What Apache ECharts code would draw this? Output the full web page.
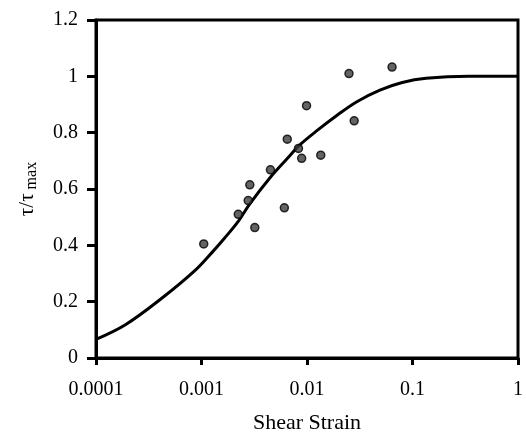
<!DOCTYPE html>
<html>
<head>
<meta charset="utf-8">
<script src="https://cdn.jsdelivr.net/npm/echarts@6/dist/echarts.min.js"></script>
<style>
  html, body { margin: 0; padding: 0; background: #fff; }
  #chart { width: 526px; height: 439px; }
</style>
</head>
<body>
<div id="chart"></div>
<script>
// fitted curve (shear strain vs tau/tau max)
var curveStrain = [0.0001, 0.00019, 0.00042, 0.00087, 0.00126, 0.00165, 0.00223, 0.00287, 0.00458, 0.00657, 0.00845, 0.0125, 0.0193, 0.0297, 0.0491, 0.08, 0.1345, 0.342, 1];
var curveRatio  = [0.066, 0.118, 0.212, 0.311, 0.375, 0.425, 0.485, 0.547, 0.645, 0.71, 0.755, 0.808, 0.862, 0.91, 0.951, 0.978, 0.993, 1.0, 1.0];

// measured points
var ptStrain = [0.00105, 0.00223, 0.00287, 0.00277, 0.0032, 0.0045, 0.0061, 0.0065, 0.0083, 0.0089, 0.0099, 0.0135, 0.025, 0.028, 0.064];
var ptRatio  = [0.405, 0.51, 0.615, 0.559, 0.463, 0.668, 0.533, 0.777, 0.744, 0.709, 0.896, 0.72, 1.01, 0.842, 1.033];

var xTicks = ['0.0001', '0.001', '0.01', '0.1', '1'];

var curveData = [];
for (var i = 0; i < curveStrain.length; i++) {
  curveData.push([curveStrain[i], curveRatio[i]]);
}
var ptData = [];
for (var j = 0; j < ptStrain.length; j++) {
  ptData.push([ptStrain[j], ptRatio[j]]);
}

var font = 'Liberation Serif';
var myChart = echarts.init(document.getElementById('chart'));
var option = {
  backgroundColor: '#fff',
  animation: false,
  grid: {
    left: 96, right: 3, top: 20, bottom: 77,
    show: true, borderColor: '#000', borderWidth: 3, backgroundColor: 'transparent'
  },
  xAxis: {
    type: 'log',
    logBase: 10,
    min: 0.0001,
    max: 1,
    name: 'Shear Strain',
    nameLocation: 'middle',
    nameGap: 54,
    nameTextStyle: { color: '#000', fontFamily: font, fontSize: 22 },
    axisLine: { lineStyle: { color: '#000', width: 3 } },
    axisTick: { show: true, length: 7, lineStyle: { color: '#000', width: 3 } },
    minorTick: { show: false },
    splitLine: { show: false },
    axisLabel: {
      color: '#000', fontFamily: font, fontSize: 20, margin: 22,
      formatter: function (v) {
        var s = String(parseFloat(v.toPrecision(2)));
        return xTicks.indexOf(s) >= 0 ? s : '';
      }
    }
  },
  yAxis: {
    type: 'value',
    min: 0,
    max: 1.2,
    interval: 0.2,
    name: '{a|τ/τ}{b| max}',
    nameLocation: 'middle',
    nameGap: 56,
    nameTextStyle: {
      color: '#000', fontFamily: font,
      rich: {
        a: { fontFamily: font, fontSize: 21, lineHeight: 26, verticalAlign: 'middle', color: '#000' },
        b: { fontFamily: font, fontSize: 16, lineHeight: 16, verticalAlign: 'bottom', color: '#000' }
      }
    },
    axisLine: { show: true, lineStyle: { color: '#000', width: 3 } },
    axisTick: { show: true, length: 9, lineStyle: { color: '#000', width: 3 } },
    splitLine: { show: false },
    axisLabel: { color: '#000', fontFamily: font, fontSize: 20, margin: 18 }
  },
  series: [
    {
      name: 'curve',
      type: 'line',
      data: curveData,
      smooth: 0.35,
      showSymbol: false,
      symbol: 'none',
      lineStyle: { color: '#000', width: 3 },
      z: 2
    },
    {
      name: 'data',
      type: 'scatter',
      data: ptData,
      symbol: 'circle',
      symbolSize: 8,
      itemStyle: { color: '#3c3c3c', borderColor: '#000', borderWidth: 1.5 },
      z: 3
    }
  ]
};
myChart.setOption(option);
</script>
</body>
</html>
